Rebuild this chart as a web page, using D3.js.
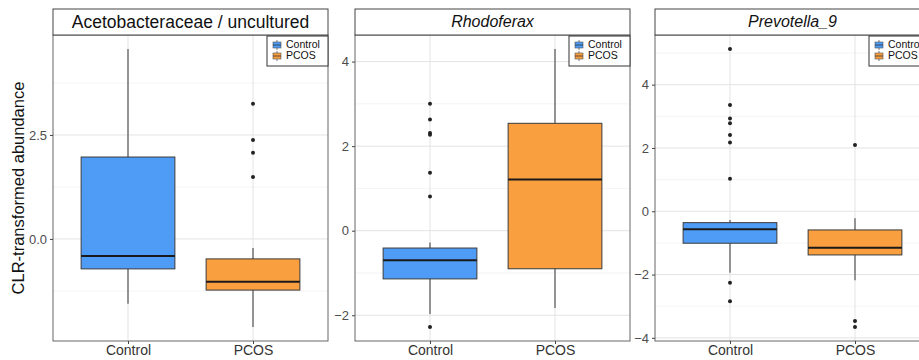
<!DOCTYPE html>
<html>
<head>
<meta charset="utf-8">
<script src="https://cdn.jsdelivr.net/npm/d3@7"></script>
<style>
  body { margin: 0; background: #fff; }
  svg { font-family: "Liberation Sans", Arial, sans-serif; }
</style>
</head>
<body>
<div id="container"></div>
<script>
// groups and panel titles
const groups = ["Control", "PCOS"]
const titles = ["Acetobacteraceae / uncultured", "Rhodoferax", "Prevotella_9"]
const italicTitle = [false, true, true]

// box stats per panel: [whiskerLow, q1, median, q3, whiskerHigh]
const controlStats = [
  [-1.56, -0.72, -0.41, 1.97, 4.57],
  [-1.97, -1.14, -0.70, -0.41, -0.28],
  [-1.94, -1.01, -0.57, -0.36, -0.28]
]
const pcosStats = [
  [-2.12, -1.23, -1.03, -0.48, -0.22],
  [-1.83, -0.90, 1.21, 2.54, 4.30],
  [-2.18, -1.38, -1.15, -0.59, -0.22]
]
// outliers
const controlOutliers = [
  [],
  [3.00, 2.63, 2.31, 2.27, 1.37, 0.81, -2.28],
  [5.13, 3.36, 2.93, 2.78, 2.41, 2.17, 1.03, -2.26, -2.84]
]
const pcosOutliers = [
  [3.25, 2.38, 2.07, 1.49],
  [],
  [2.09, -3.47, -3.66]
]
// tick labels
const yTicks = [
  [0, 2.5],
  [-2, 0, 2, 4],
  [-4, -2, 0, 2, 4]
]
const yTickFormat = [d3.format(".1f"), d3.format("d"), d3.format("d")]

const colors = { Control: "#4e9cf6", PCOS: "#f99f3f" }

const w = 919
const h = 360
const panelLeft = [53, 355, 655]
const panelW = 275
const stripTop = 9
const stripH = 26
const plotTop = 35
const plotBottom = 341

const svg = d3.select("#container")
  .append("svg")
  .attr("width", w)
  .attr("height", h)

svg.append("text")
  .attr("transform", "translate(20," + (plotTop + plotBottom) / 2 + ") rotate(-90)")
  .attr("text-anchor", "middle")
  .attr("dominant-baseline", "middle")
  .attr("font-size", 16.5)
  .attr("fill", "#111")
  .text("CLR-transformed abundance")

titles.forEach((title, i) => {
  const g = svg.append("g").attr("transform", "translate(" + panelLeft[i] + ",0)")

  // y range from data with 5% expansion, like ggplot
  let all = controlStats[i].concat(pcosStats[i], controlOutliers[i], pcosOutliers[i])
  let lo = d3.min(all)
  let hi = d3.max(all)
  let pad = (hi - lo) * 0.05
  const y = d3.scaleLinear().domain([lo - pad, hi + pad]).range([plotBottom, plotTop])
  const x = d3.scalePoint().domain(groups).range([0, panelW]).padding(0.6)
  const boxW = x.step() * 0.75

  // grid: minor then major
  const major = yTicks[i]
  const step = major.length > 1 ? major[1] - major[0] : 2.5
  let minor = []
  for (let v = major[0] - step / 2; v <= y.domain()[1]; v += step) {
    if (v >= y.domain()[0]) minor.push(v)
  }
  g.selectAll(".minor")
    .data(minor)
    .enter()
    .append("line")
    .attr("x1", 0).attr("x2", panelW)
    .attr("y1", d => y(d)).attr("y2", d => y(d))
    .attr("stroke", "#efefef").attr("stroke-width", 0.7)
  g.selectAll(".major")
    .data(major)
    .enter()
    .append("line")
    .attr("x1", 0).attr("x2", panelW)
    .attr("y1", d => y(d)).attr("y2", d => y(d))
    .attr("stroke", "#e3e3e3").attr("stroke-width", 1)
  g.selectAll(".vgrid")
    .data(groups)
    .enter()
    .append("line")
    .attr("x1", d => x(d)).attr("x2", d => x(d))
    .attr("y1", plotTop).attr("y2", plotBottom)
    .attr("stroke", "#e3e3e3").attr("stroke-width", 1)

  // boxes
  const stats = [controlStats[i], pcosStats[i]]
  const outs = [controlOutliers[i], pcosOutliers[i]]
  groups.forEach((grp, k) => {
    const s = stats[k]
    const cx = x(grp)
    g.append("line")
      .attr("x1", cx).attr("x2", cx)
      .attr("y1", y(s[0])).attr("y2", y(s[1]))
      .attr("stroke", "#555").attr("stroke-width", 1.2)
    g.append("line")
      .attr("x1", cx).attr("x2", cx)
      .attr("y1", y(s[3])).attr("y2", y(s[4]))
      .attr("stroke", "#555").attr("stroke-width", 1.2)
    g.append("rect")
      .attr("x", cx - boxW / 2)
      .attr("y", y(s[3]))
      .attr("width", boxW)
      .attr("height", y(s[1]) - y(s[3]))
      .attr("fill", colors[grp])
      .attr("stroke", "#3a3a3a").attr("stroke-width", 1)
    g.append("line")
      .attr("x1", cx - boxW / 2).attr("x2", cx + boxW / 2)
      .attr("y1", y(s[2])).attr("y2", y(s[2]))
      .attr("stroke", "#1a1a1a").attr("stroke-width", 2)
    g.selectAll(".out" + k)
      .data(outs[k])
      .enter()
      .append("circle")
      .attr("cx", cx)
      .attr("cy", d => y(d))
      .attr("r", 2)
      .attr("fill", "#222")
  })

  // panel border
  g.append("rect")
    .attr("x", 0).attr("y", plotTop)
    .attr("width", panelW).attr("height", plotBottom - plotTop)
    .attr("fill", "none").attr("stroke", "#666").attr("stroke-width", 1)

  // strip
  g.append("rect")
    .attr("x", 0).attr("y", stripTop)
    .attr("width", panelW).attr("height", stripH)
    .attr("fill", "#fff").attr("stroke", "#444").attr("stroke-width", 1)
  g.append("text")
    .attr("x", panelW / 2)
    .attr("y", stripTop + stripH / 2 + 1)
    .attr("text-anchor", "middle")
    .attr("dominant-baseline", "middle")
    .attr("font-size", italicTitle[i] ? 16 : 17.5)
    .attr("font-style", italicTitle[i] ? "italic" : "normal")
    .attr("fill", "#111")
    .text(title)

  // axes
  const yAxis = d3.axisLeft(y).tickValues(yTicks[i]).tickSize(3).tickPadding(3).tickFormat(yTickFormat[i])
  const ya = g.append("g").call(yAxis)
  ya.select(".domain").remove()
  ya.selectAll("line").attr("stroke", "#444")
  ya.selectAll("text").attr("font-size", 13).attr("fill", "#4d4d4d").attr("font-family", "Liberation Sans, Arial, sans-serif")

  const xAxis = d3.axisBottom(x).tickSize(3).tickPadding(1)
  const xa = g.append("g").attr("transform", "translate(0," + plotBottom + ")").call(xAxis)
  xa.select(".domain").remove()
  xa.selectAll("line").attr("stroke", "#444")
  xa.selectAll("text").attr("font-size", 14).attr("fill", "#333").attr("font-family", "Liberation Sans, Arial, sans-serif")

  // legend in top-right of panel
  const lg = g.append("g").attr("transform", "translate(" + (panelW - 61) + "," + (plotTop + 1) + ")")
  lg.append("rect")
    .attr("width", 61).attr("height", 30)
    .attr("fill", "#fff").attr("stroke", "#333").attr("stroke-width", 1)
  groups.forEach((grp, k) => {
    const ky = 4 + k * 11
    lg.append("line")
      .attr("x1", 10).attr("x2", 10).attr("y1", ky).attr("y2", ky + 10)
      .attr("stroke", "#555").attr("stroke-width", 0.8)
    lg.append("rect")
      .attr("x", 6).attr("y", ky + 2)
      .attr("width", 8).attr("height", 6)
      .attr("fill", colors[grp]).attr("stroke", "#555").attr("stroke-width", 0.6)
    lg.append("line")
      .attr("x1", 6).attr("x2", 14).attr("y1", ky + 5).attr("y2", ky + 5)
      .attr("stroke", "#333").attr("stroke-width", 0.8)
    lg.append("text")
      .attr("x", 19).attr("y", ky + 5.5)
      .attr("dominant-baseline", "middle")
      .attr("font-size", 10.5)
      .attr("fill", "#111")
      .text(grp)
  })
})
</script>
</body>
</html>
